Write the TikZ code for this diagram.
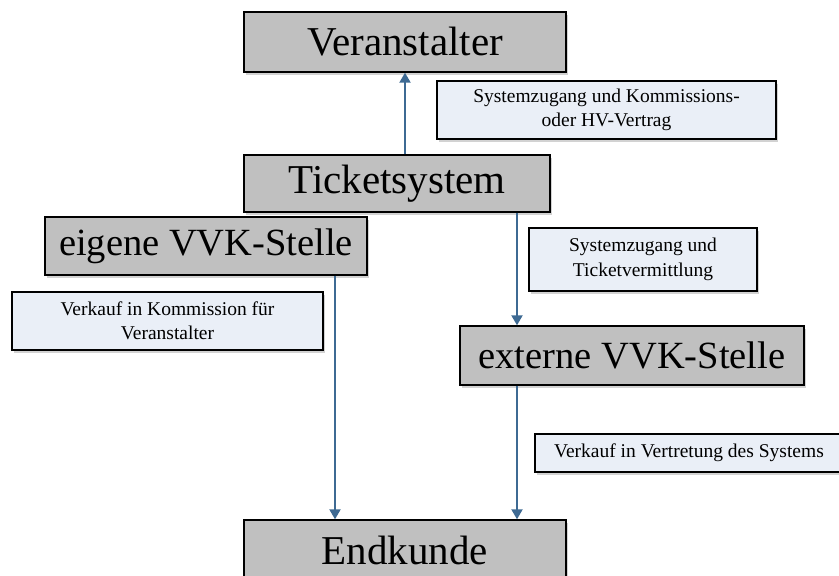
\documentclass[tikz,border=0pt]{standalone}
\usepackage{fontspec}
\setmainfont{Liberation Serif}
\usetikzlibrary{arrows.meta,shadows}
\definecolor{boxgray}{HTML}{C0C0C0}
\definecolor{boxblue}{HTML}{EAEFF7}
\definecolor{arrblue}{HTML}{3E6A93}
\begin{document}
\begin{tikzpicture}[x=1pt,y=-1pt,
  big/.style={draw=black,line width=1.4pt,fill=boxgray,inner sep=0pt,
    font=\fontsize{41}{48}\selectfont,
    drop shadow={opacity=0.35,shadow xshift=2pt,shadow yshift=-3pt,fill=black!50}},
  bigvvk/.style={big,font=\fontsize{38.5}{46}\selectfont},
  small/.style={draw=black,line width=1.4pt,fill=boxblue,inner sep=0pt,align=center,
    font=\fontsize{19.5}{24.5}\selectfont,
    drop shadow={opacity=0.35,shadow xshift=2pt,shadow yshift=-3pt,fill=black!50}},
  arr/.style={draw=arrblue,line width=2pt,-{Triangle[width=11pt,length=10pt]}}]
\useasboundingbox (0,0) rectangle (839,576);
\clip (0,0) rectangle (839,576);
\fill[white] (0,0) rectangle (839,576);
% main boxes
\node[big,minimum width=322pt,minimum height=60pt] (ver) at (405,42) {Veranstalter};
\node[big,minimum width=306pt,minimum height=57pt] (tick) at (397,183.5) {Ticketsystem};
\node[bigvvk,minimum width=322pt,minimum height=58pt] (eig) at (206,246) {eigene VVK-Stelle};
\node[bigvvk,minimum width=344pt,minimum height=59pt] (ext) at (632,355.5) {externe VVK-Stelle};
\node[big,minimum width=322pt,minimum height=60pt] (end) at (405,550) {Endkunde};
% label boxes
\node[small,minimum width=339pt,minimum height=58pt] (l1) at (606.5,110) {Systemzugang und Kommissions-\\oder HV-Vertrag};
\node[small,minimum width=228pt,minimum height=63pt] (l2) at (643,259.5) {Systemzugang und\\Ticketvermittlung};
\node[small,minimum width=311pt,minimum height=58pt] (l3) at (167.5,321) {Verkauf in Kommission für\\Veranstalter};
\node[small,minimum width=308pt,minimum height=38pt] (l4) at (689,453) {Verkauf in Vertretung des Systems};
% connectors
\coordinate (cA) at (335,0);
\coordinate (cB) at (517,0);
\draw[arr] (tick.north -| ver.south) -- (ver.south);
\draw[arr] (tick.south -| cB) -- (ext.north -| cB);
\draw[arr] (eig.south -| cA) -- (end.north -| cA);
\draw[arr] (ext.south -| cB) -- (end.north -| cB);
\end{tikzpicture}
\end{document}
